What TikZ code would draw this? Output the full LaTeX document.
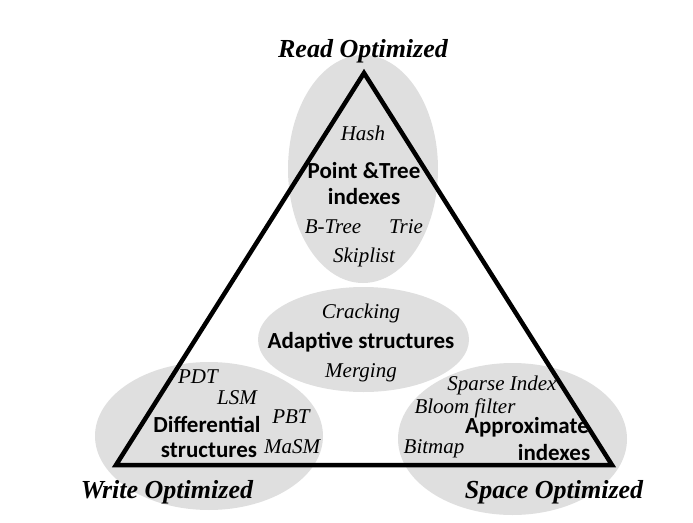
\documentclass[tikz,border=0pt]{standalone}
\usepackage{fontspec}
\setmainfont{Liberation Serif}
\newfontfamily\calibri{Carlito}
\usepackage{tikz}
\usetikzlibrary{calc,positioning}
\definecolor{blasengrau}{RGB}{223,223,223}
\tikzset{
  kursiv/.style={anchor=base,inner sep=0pt,font=\fontsize{21}{25}\selectfont\itshape},
  fett/.style={anchor=base,inner sep=0pt,font=\fontsize{23}{27}\selectfont\calibri\bfseries},
  ecke/.style={anchor=base,inner sep=0pt,font=\fontsize{26}{30}\selectfont\bfseries\itshape},
}
\begin{document}
\begin{tikzpicture}[x=1pt,y=-1pt]
%Bildgroesse wie Vorlage (Pixel)
\useasboundingbox (0,0) rectangle (693,522);
%Blasen: Mittelpunkt x, y, Radius x, Radius y
\foreach \mx/\my/\rx/\ry in {363/169/75/114, 363.5/339.5/105.5/52.5, 209/436/114/74, 512.5/439/114.5/76}{
\fill[blasengrau] (\mx,\my) ellipse [x radius=\rx, y radius=\ry];
}
%Dreieck
\coordinate (lesen) at (364,73);
\coordinate (schreiben) at (116,465);
\coordinate (platz) at (612,465);
\draw[black,line width=4.5pt] (lesen) -- (schreiben) -- (platz) -- cycle;
%Ecken
\node[ecke] (leseopt) at (363,57) {Read Optimized};
\node[ecke] (schreibopt) at (167,498) {Write Optimized};
\node[ecke] (platzopt) at (554,498) {Space Optimized};
%oben
\node[kursiv] (hash) at (363,140) {Hash};
\node[fett] (punkt) at (364,178) {Point \&Tree};
\node[fett] (punktidx) at (364,204) {indexes};
\node[kursiv] (btree) at (333,233) {B-Tree};
\node[kursiv] (trie) at (406,233) {Trie};
\node[kursiv] (skip) at (364,262) {Skiplist};
%Mitte
\node[kursiv] (crack) at (361,318) {Cracking};
\node[fett] (adapt) at (361,348) {Adaptive structures};
\node[kursiv] (merge) at (361,377) {Merging};
%links unten
\node[kursiv] (pdt) at (198,383) {PDT};
\node[kursiv] (lsm) at (237,404) {LSM};
\node[fett] (diff) at (207,432) {Differential};
\node[kursiv] (pbt) at (291,423) {PBT};
\node[fett] (diffstr) at (209,457) {structures};
\node[kursiv] (masm) at (292,453) {MaSM};
%rechts unten
\node[kursiv] (sparse) at (502,390) {Sparse Index};
\node[kursiv] (bloom) at (465,413) {Bloom filter};
\node[fett] (approx) at (527,433) {Approximate};
\node[kursiv] (bitmap) at (434,453) {Bitmap};
\node[fett] (approxidx) at (554,460) {indexes};
\end{tikzpicture}
\end{document}
